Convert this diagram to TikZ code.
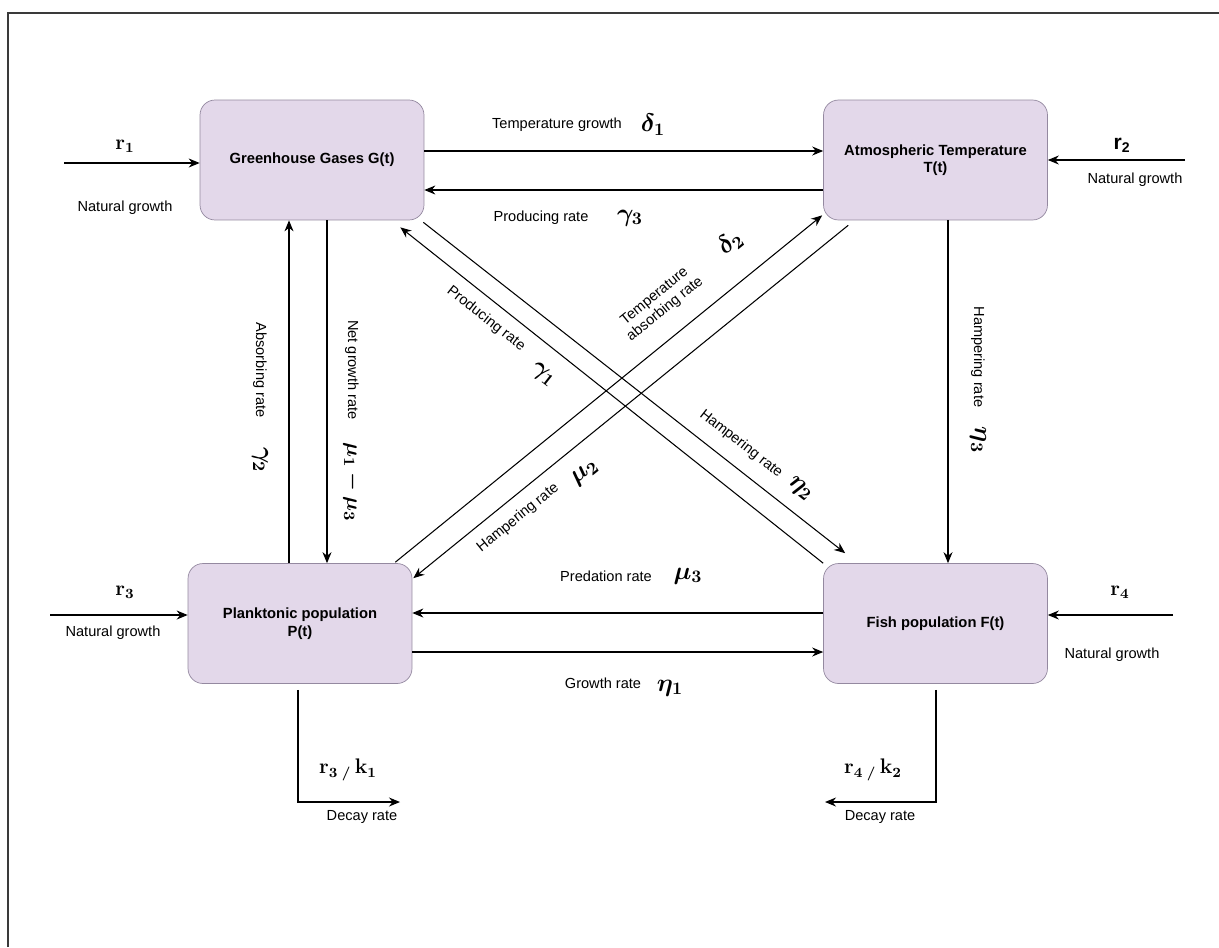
\documentclass[tikz,border=0pt]{standalone}
\usepackage{amsmath,amssymb,bm}
\usepackage[no-math]{fontspec}
\setmainfont{Liberation Sans}
\usepackage{xcolor}
\usepackage{tikz}
\usetikzlibrary{arrows.meta,positioning,calc}

\definecolor{boxfill}{HTML}{E3D8EA}
\definecolor{boxline}{HTML}{9489A0}
\definecolor{framegray}{HTML}{3A3A3A}

\newcommand{\rsym}[1]{{\fontsize{12}{13}\selectfont$\boldsymbol{#1}$}}
\newcommand{\rate}[1]{{\fontsize{14}{15}\selectfont$\boldsymbol{#1}$}}

\begin{document}
\begin{tikzpicture}[
  x=0.02cm, y=-0.02cm,
  box/.style={draw=boxline, fill=boxfill, rounded corners=0.3cm, align=center, font=\fontsize{8.4}{10}\selectfont\bfseries,
    minimum width=4.48cm, minimum height=2.4cm, inner sep=0pt},
  arr/.style={-{Stealth[length=2.2mm,width=1.8mm]}, line width=0.6pt},
  lbl/.style={font=\fontsize{8.3}{9.5}\selectfont, align=center, inner sep=1pt}
]
\useasboundingbox (0,0) rectangle (1219,947);
\draw[framegray, line width=0.9pt] (8,947) -- (8,13) -- (1219,13);

% compartments
\node[box] at (312,160)   (G) {Greenhouse Gases G(t)};
\node[box] at (935.5,160) (T) {Atmospheric Temperature\\T(t)};
\node[box] at (300,623.5) (P) {Planktonic population\\P(t)};
\node[box] at (935.5,623.5) (F) {Fish population F(t)};

% free ends of the inflows and decays
\coordinate (r1in) at (64,163);
\coordinate (r2in) at (1185,160);
\coordinate (r3in) at (50,615);
\coordinate (r4in) at (1173,615);
\coordinate (Pdec) at (400,802);
\coordinate (Fdec) at (825,802);

% natural growth
\draw[arr] (r1in) -- (r1in -| G.west);
\draw[arr] (r2in) -- (r2in -| T.east);
\draw[arr] (r3in) -- (r3in -| P.west);
\draw[arr] (r4in) -- (r4in -| F.east);
\node[lbl] at (125,146) (r1) {\rsym{\mathbf{r}_{\mathbf{1}}}};
\node[lbl] at (125,208) (ng1) {Natural growth};
\node[lbl] at (1122,145) (r2) {\fontsize{12}{13}\selectfont\bfseries r\textsubscript{2}};
\node[lbl] at (1135,180) (ng2) {Natural growth};
\node[lbl] at (125,592) (r3) {\rsym{\mathbf{r}_{\mathbf{3}}}};
\node[lbl] at (113,633) (ng3) {Natural growth};
\node[lbl] at (1120,592) (r4) {\rsym{\mathbf{r}_{\mathbf{4}}}};
\node[lbl] at (1112,655) (ng4) {Natural growth};

% top pair
\draw[arr] (G.east |- 0,151) -- (T.west |- 0,151);
\draw[arr] (T.west |- 0,190) -- (G.east |- 0,190);
\node[lbl] at (557,125) (tg) {Temperature growth};
\node[lbl] at (653,125) (d1) {\rate{\delta_1}};
\node[lbl] at (541,218) (pr3) {Producing rate};
\node[lbl] at (630,218) (g3) {\rate{\gamma_3}};

% left pair
\draw[arr] (289,0 |- P.north) -- (289,0 |- G.south);
\draw[arr] (327,0 |- G.south) -- (327,0 |- P.north);
\node[lbl, rotate=-90] at (260,370) (ab) {Absorbing rate};
\node[lbl, rotate=-90] at (260,460) (g2) {\rate{\gamma_2}};
\node[lbl, rotate=-90] at (352,370) (ngr) {Net growth rate};
\node[lbl, rotate=-90] at (352,482) (m13) {{\fontsize{13}{14}\selectfont$\boldsymbol{\mu_1-\mu_3}$}};

% right side
\draw[arr] (948,0 |- T.south) -- (948,0 |- F.north);
\node[lbl, rotate=-90] at (978,357) (hr3) {Hampering rate};
\node[lbl, rotate=-90] at (978,440) (e3) {\rate{\eta_3}};

% diagonals
\draw[arr] ($(G.south east)+(-1,2)$) -- ($(F.north west)+(22,-10)$);
\draw[arr] (F.north west) -- ($(G.south east)+(-24,7)$);
\draw[arr] ($(P.north east)+(-17,-1)$) -- ($(T.south west)+(-1,-5)$);
\draw[arr] ($(T.south west)+(25,5)$) -- ($(P.north east)+(1,15)$);
\node[lbl, rotate=-38] at (486,319) (pr1) {Producing rate};
\node[lbl, rotate=-38] at (543,375) (g1) {\rate{\gamma_1}};
\node[lbl, rotate=39] at (660,303) (ta) {Temperature\\absorbing rate};
\node[lbl, rotate=39] at (730,243) (d2) {\rate{\delta_2}};
\node[lbl, rotate=-38] at (741,444) (hr2) {Hampering rate};
\node[lbl, rotate=-38] at (800,489) (e2) {\rate{\eta_2}};
\node[lbl, rotate=39] at (518,518) (hrm) {Hampering rate};
\node[lbl, rotate=39] at (585,473) (m2) {\rate{\mu_2}};

% bottom pair
\draw[arr] (F.west |- 0,613) -- (P.east |- 0,613);
\draw[arr] (P.east |- 0,652) -- (F.west |- 0,652);
\node[lbl] at (606,576) (pd) {Predation rate};
\node[lbl] at (688,576) (m3) {\rate{\mu_3}};
\node[lbl] at (603,683) (gr) {Growth rate};
\node[lbl] at (670,688) (e1) {\rate{\eta_1}};

% decay
\draw[arr] ([yshift=-0.12cm]298,0 |- P.south) -- (Pdec -| 298,0) -- (Pdec);
\draw[arr] ([yshift=-0.12cm]936,0 |- F.south) -- (Fdec -| 936,0) -- (Fdec);
\node[lbl] at (348,770) (rk1) {\rsym{\mathbf{r}_{\mathbf{3}}\,{}_{/}\,\mathbf{k}_{\mathbf{1}}}};
\node[lbl] at (362,817) (dr1) {Decay rate};
\node[lbl] at (873,770) (rk2) {\rsym{\mathbf{r}_{\mathbf{4}}\,{}_{/}\,\mathbf{k}_{\mathbf{2}}}};
\node[lbl] at (880,817) (dr2) {Decay rate};
\end{tikzpicture}
\end{document}
